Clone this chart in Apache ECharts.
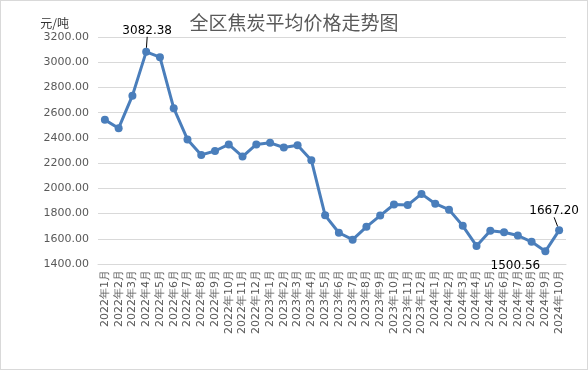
<!DOCTYPE html>
<html><head><meta charset="utf-8">
<script src="https://cdn.jsdelivr.net/npm/echarts@6/dist/echarts.min.js"></script>
<style>html,body{margin:0;padding:0;background:#fff}#c{width:588px;height:370px;box-sizing:border-box;border:1px solid #d9d9d9}</style>
</head><body><div id="c"></div>
<script>
const categories = ['2022年1月','2022年2月','2022年3月','2022年4月','2022年5月','2022年6月','2022年7月','2022年8月','2022年9月','2022年10月','2022年11月','2022年12月',
'2023年1月','2023年2月','2023年3月','2023年4月','2023年5月','2023年6月','2023年7月','2023年8月','2023年9月','2023年10月','2023年11月','2023年12月',
'2024年1月','2024年2月','2024年3月','2024年4月','2024年5月','2024年6月','2024年7月','2024年8月','2024年9月','2024年10月'];
const prices = [2543,2477,2735,3082.38,3040,2636,2388,2265,2296,2348,2252,2348,2361,2324,2342,2223,1786,1648,1593,1695,1784,1872,1867,1956,1878,1831,1703,1543,1663,1652,1626,1576,1500.56,1667.20];
const labelled = {3:{position:'top',dx:1,dy:-6,line:true},32:{position:'bottom',dx:-30,dy:0,line:false},33:{position:'top',dx:-5,dy:-4,line:true}};

const chart = echarts.init(document.getElementById('c'));
chart.setOption({
  animation:false,
  title:{text:'全区焦炭平均价格走势图',left:'center',top:7,textStyle:{fontFamily:'Noto Sans CJK SC',fontSize:19,fontWeight:'normal',color:'#595959'}},
  grid:{left:97,right:21,top:36,bottom:105},
  xAxis:{type:'category',data:categories,boundaryGap:true,
    axisLine:{lineStyle:{color:'#d9d9d9'}},axisTick:{show:false},
    axisLabel:{interval:0,rotate:90,color:'#595959',fontSize:11,fontFamily:'DejaVu Sans',margin:6}},
  yAxis:{type:'value',min:1400,max:3200,interval:200,
    name:'元/吨',nameLocation:'end',nameGap:8,nameTextStyle:{color:'#333',fontSize:12,fontFamily:'Noto Sans CJK SC',align:'right',padding:[0,29,0,0]},
    axisLine:{show:false},axisTick:{show:false},
    splitLine:{lineStyle:{color:'#d9d9d9'}},
    axisLabel:{color:'#595959',fontSize:11,fontFamily:'DejaVu Sans',margin:9,formatter:v=>v.toFixed(2)}},
  series:[{type:'line',
    data:prices.map((v,i)=>{
      const L = labelled[i];
      if(!L) return v;
      return {value:v,label:{show:true,position:L.position,color:'#000',fontSize:12,fontFamily:'DejaVu Sans',formatter:p=>p.value.toFixed(2)},
        labelLine:{show:L.line,lineStyle:{color:'#000',width:1}}};
    }),
    symbol:'circle',symbolSize:8,
    lineStyle:{color:'#4a7ebb',width:3},
    itemStyle:{color:'#4a7ebb'},
    labelLine:{show:true,lineStyle:{color:'#000',width:1}},
    labelLayout:function(p){const L=labelled[p.dataIndex];return L?{dx:L.dx,dy:L.dy}:{};}
  }]
});
</script></body></html>
